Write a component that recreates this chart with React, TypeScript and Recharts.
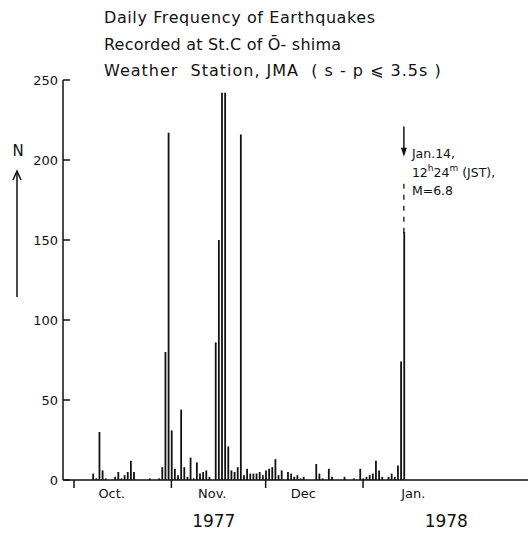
import { BarChart, Bar, XAxis, YAxis, ReferenceLine } from 'recharts'

// daily counts, day 0 = Oct 1 1977, last day = Jan 14 1978
const DAILY_N = [
  0, 0, 0, 0, 0, 0, 4, 1, 30, 6, 1, 0, 0, 2, 5, 1, 3, 5, 12, 5,
  0, 0, 0, 0, 1, 0, 0, 1, 8, 80, 217, 31, 7, 3, 44, 8, 2, 14, 1, 11,
  4, 5, 6, 2, 0, 86, 150, 242, 242, 21, 6, 5, 8, 216, 3, 7, 4, 4, 4, 5,
  3, 6, 7, 8, 13, 3, 6, 0, 5, 4, 2, 3, 1, 2, 0, 0, 0, 10, 4, 1,
  0, 7, 2, 0, 0, 0, 2, 0, 0, 1, 0, 7, 1, 2, 3, 4, 12, 6, 2, 0,
  2, 4, 2, 9, 74, 155,
]
const MONTH_STARTS = [0, 31, 61, 92]
const MONTH_LABELS = ['Oct.', 'Nov.', 'Dec', 'Jan.']
const MONTH_LABEL_DAYS = [12, 44, 73, 108]
const YEAR_LABELS = ['1977', '1978']
const YEAR_LABEL_DAYS = [44.5, 118.5]
const Y_TICKS = [0, 50, 100, 150, 200, 250]
const TITLE = [
  'Daily Frequency of Earthquakes',
  'Recorded at St.C of \u014C- shima',
  'Weather  Station, JMA  ( s - p \u2A7D 3.5s )',
]
const SHOCK_DAY = 105
const SHOCK_NOTE = ['Jan.14,', '12|h|24|m| (JST),', 'M=6.8']

const FONT = '"DejaVu Sans", sans-serif'
const INK = '#111'

const data = DAILY_N.map((n, i) => ({ day: i, n }))

function XTick({ x, y, payload }: any) {
  const v = payload.value
  if (MONTH_STARTS.includes(v)) {
    return <line x1={x} x2={x} y1={y} y2={y + 8} stroke={INK} strokeWidth={1.5} />
  }
  const m = MONTH_LABEL_DAYS.indexOf(v)
  if (m >= 0) {
    return <text x={x} y={y + 18} textAnchor="middle" fontSize={13} fontFamily={FONT} fill={INK}>{MONTH_LABELS[m]}</text>
  }
  const yr = YEAR_LABEL_DAYS.indexOf(v)
  if (yr >= 0) {
    return <text x={x} y={y + 47} textAnchor="middle" fontSize={17} fontFamily={FONT} fill={INK}>{YEAR_LABELS[yr]}</text>
  }
  return <g />
}

function YTick({ x, y, payload }: any) {
  return (
    <g>
      <line x1={x} x2={x + 7} y1={y} y2={y} stroke={INK} strokeWidth={1.5} />
      <text x={x - 5} y={y + 5} textAnchor="end" fontSize={13} fontFamily={FONT} fill={INK}>{payload.value}</text>
    </g>
  )
}

// arrow pointing down at the main shock, with the note beside it
function ShockArrow({ x1, y1, x2, y2 }: any) {
  const top = Math.min(y1, y2)
  const tip = Math.max(y1, y2)
  const parts = SHOCK_NOTE[1].split('|')
  return (
    <g>
      <line x1={x1} x2={x2} y1={top} y2={tip - 4} stroke={INK} strokeWidth={1.5} />
      <polygon points={`${x1},${tip} ${x1 - 3},${tip - 9} ${x1 + 3},${tip - 9}`} fill={INK} />
      <g fontFamily={FONT} fontSize={12.5} fill={INK}>
        <text x={x1 + 8} y={tip + 1}>{SHOCK_NOTE[0]}</text>
        <text x={x1 + 8} y={tip + 20}>
          {parts[0]}
          <tspan fontSize={9} dy={-6}>{parts[1]}</tspan>
          <tspan dy={6}>{parts[2]}</tspan>
          <tspan fontSize={9} dy={-6}>{parts[3]}</tspan>
          <tspan dy={6}>{parts[4]}</tspan>
        </text>
        <text x={x1 + 8} y={tip + 38}>{SHOCK_NOTE[2]}</text>
      </g>
    </g>
  )
}

const TITLE_SPACING = [0.6, 0.2, 1.0]

export default function App() {
  return (
    <div style={{ position: 'absolute', left: 0, top: 0, width: 531, height: 534, background: '#fff' }}>
      <BarChart
        width={531}
        height={534}
        data={data}
        margin={{ top: 80, right: 3, left: 0, bottom: 0 }}
        barCategoryGap={0}
      >
        <XAxis
          dataKey="day"
          type="number"
          domain={[-3.5, 144.5]}
          allowDataOverflow
          ticks={[...MONTH_STARTS, ...MONTH_LABEL_DAYS, ...YEAR_LABEL_DAYS]}
          interval={0}
          tick={<XTick />}
          tickLine={false}
          tickSize={0}
          tickMargin={0}
          height={54}
          axisLine={{ stroke: INK, strokeWidth: 1.5 }}
        />
        <YAxis
          type="number"
          domain={[0, 250]}
          ticks={Y_TICKS}
          interval={0}
          tick={<YTick />}
          tickLine={false}
          tickSize={0}
          tickMargin={0}
          width={63}
          axisLine={{ stroke: INK, strokeWidth: 1.5 }}
        />
        <Bar dataKey="n" fill={INK} barSize={1.8} isAnimationActive={false} />
        <ReferenceLine
          segment={[{ x: SHOCK_DAY, y: 154.5 }, { x: SHOCK_DAY, y: 186 }]}
          stroke={INK}
          strokeWidth={1.3}
          strokeDasharray="5 6"
        />
        <ReferenceLine
          segment={[{ x: SHOCK_DAY, y: 202 }, { x: SHOCK_DAY, y: 221 }]}
          shape={<ShockArrow />}
        />
      </BarChart>
      <svg width={531} height={534} style={{ position: 'absolute', left: 0, top: 0, pointerEvents: 'none' }}>
        <g fontFamily={FONT} fontSize={16} fill={INK} style={{ whiteSpace: 'pre' }}>
          {TITLE.map((t, i) => (
            <text key={i} x={104} y={23 + i * 26.5} letterSpacing={TITLE_SPACING[i]} xmlSpace="preserve">{t}</text>
          ))}
        </g>
        <text x={18} y={156} textAnchor="middle" fontFamily={FONT} fontSize={15} fill={INK}>N</text>
        <line x1={17} x2={17} y1={172} y2={297} stroke={INK} strokeWidth={1.5} />
        <polyline points="13,180 17,171 21,180" fill="none" stroke={INK} strokeWidth={1.5} />
      </svg>
    </div>
  )
}
